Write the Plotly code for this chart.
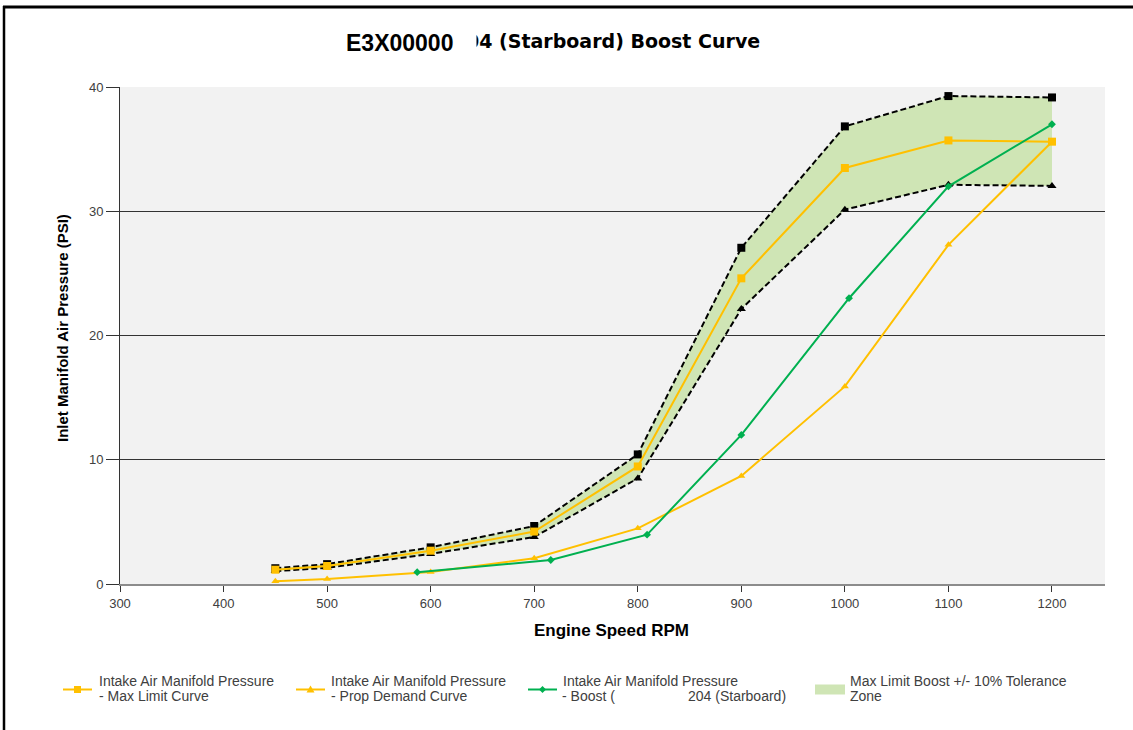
import plotly.graph_objects as go

# Engine speed (RPM) for the limit / demand curves
rpm = [450, 500, 600, 700, 800, 900, 1000, 1100, 1200]
# Tolerance band edges (+10% / -10%) around the max limit curve
tol_upper = [1.27, 1.6, 2.95, 4.67, 10.43, 27.06, 36.83, 39.27, 39.16]
tol_lower = [1.04, 1.3, 2.42, 3.78, 8.5, 22.14, 30.13, 32.13, 32.04]
# Intake air manifold pressure curves (PSI)
max_limit = [1.15, 1.45, 2.68, 4.22, 9.46, 24.6, 33.48, 35.7, 35.6]
prop_demand = [0.22, 0.4, 0.97, 2.07, 4.48, 8.7, 15.9, 27.3, 35.6]
# Measured boost
boost_rpm = [587, 716, 809, 900, 1004, 1100, 1200]
boost_psi = [0.95, 1.93, 3.97, 12.0, 23.0, 32.0, 37.0]

x_ticks = [300, 400, 500, 600, 700, 800, 900, 1000, 1100, 1200]
y_ticks = [0, 10, 20, 30, 40]

ORANGE = "#ffc000"
GREEN = "#00b050"
ZONE = "#cfe5b5"
TEXT = "#404040"
SANS = "Liberation Sans, Arial, sans-serif"

W, H = 1133, 730
L, R, T, B = 120, 28, 87, 146
PW, PH = W - L - R, H - T - B


def px(x):
    return (x - L) / PW


def py(y):
    return (H - B - y) / PH


fig = go.Figure()

# Tolerance zone polygon
fig.add_trace(go.Scatter(
    x=rpm + rpm[::-1], y=tol_upper + tol_lower[::-1],
    fill="toself", fillcolor=ZONE, line=dict(width=0),
    mode="lines", hoverinfo="skip", showlegend=False))

# Dashed tolerance band edges
fig.add_trace(go.Scatter(
    x=rpm, y=tol_upper, mode="lines+markers",
    line=dict(color="black", width=2, dash="6px,3px"),
    marker=dict(symbol="square", size=8, color="black"), showlegend=False))
fig.add_trace(go.Scatter(
    x=rpm, y=tol_lower, mode="lines+markers",
    line=dict(color="black", width=2, dash="6px,3px"),
    marker=dict(symbol="triangle-up", size=8, color="black"), showlegend=False))

fig.add_trace(go.Scatter(
    x=rpm, y=max_limit, mode="lines+markers",
    name="Intake Air Manifold Pressure - Max Limit Curve",
    line=dict(color=ORANGE, width=2),
    marker=dict(symbol="square", size=8, color=ORANGE), showlegend=False))
fig.add_trace(go.Scatter(
    x=rpm, y=prop_demand, mode="lines+markers",
    name="Intake Air Manifold Pressure - Prop Demand Curve",
    line=dict(color=ORANGE, width=2),
    marker=dict(symbol="triangle-up", size=7, color=ORANGE), showlegend=False))
fig.add_trace(go.Scatter(
    x=boost_rpm, y=boost_psi, mode="lines+markers",
    name="Intake Air Manifold Pressure - Boost",
    line=dict(color=GREEN, width=2),
    marker=dict(symbol="diamond", size=6, color=GREEN), showlegend=False))


def label(text, x, y, size=14, color=TEXT, family=SANS, xanchor="left", **kw):
    return dict(text=text, x=px(x), y=py(y), xref="paper", yref="paper",
                showarrow=False, xanchor=xanchor, yanchor="middle",
                font=dict(size=size, color=color, family=family), **kw)


annotations = [
    # Title (right part first so the left part's white box sits over it)
    label("<b>04 (Starboard) Boost Curve</b>", 762, 41, size=19, color="black",
          family="DejaVu Sans, sans-serif", xanchor="right"),
    label("<b>E3X00000</b>", 344, 43, size=23, color="black",
          bgcolor="white", width=129, align="left", borderpad=1),
    # Axis titles
    label("<b>Engine Speed RPM</b>", 611, 630, size=17, color="black", xanchor="center"),
    dict(text="<b>Inlet Manifold Air Pressure (PSI)</b>", x=px(62), y=py(328),
         xref="paper", yref="paper", showarrow=False, textangle=-90,
         xanchor="center", yanchor="middle",
         font=dict(size=15, color="black", family=SANS)),
    # Legend texts
    label("Intake Air Manifold Pressure", 97, 681),
    label("- Max Limit Curve", 97, 696),
    label("Intake Air Manifold Pressure", 329, 681),
    label("- Prop Demand Curve", 329, 696),
    label("Intake Air Manifold Pressure", 561, 681),
    label("204 (Starboard)", 788, 696, xanchor="right"),
    label("- Boost (", 560, 696, bgcolor="white", width=122, align="left", borderpad=1),
    label("Max Limit Boost +/- 10% Tolerance", 848, 681),
    label("Zone", 848, 696),
]

shapes = []
LY = 689.5
# Legend line swatches with their markers
for x0, col in [(63, ORANGE), (296, ORANGE), (528, GREEN)]:
    shapes.append(dict(type="line", xref="paper", yref="paper",
                       x0=px(x0), x1=px(x0 + 29), y0=py(LY), y1=py(LY),
                       line=dict(color=col, width=2)))
cx = 77.5
shapes.append(dict(type="rect", xref="paper", yref="paper",
                   x0=px(cx - 3.5), x1=px(cx + 3.5), y0=py(LY - 3.5), y1=py(LY + 3.5),
                   fillcolor=ORANGE, line=dict(width=0)))
cx = 310.5
shapes.append(dict(type="path", xref="paper", yref="paper",
                   path=f"M {px(cx - 4)},{py(LY + 3)} L {px(cx + 4)},{py(LY + 3)} "
                        f"L {px(cx)},{py(LY - 4)} Z",
                   fillcolor=ORANGE, line=dict(width=0)))
cx = 542.5
shapes.append(dict(type="path", xref="paper", yref="paper",
                   path=f"M {px(cx - 3.5)},{py(LY)} L {px(cx)},{py(LY - 3.5)} "
                        f"L {px(cx + 3.5)},{py(LY)} L {px(cx)},{py(LY + 3.5)} Z",
                   fillcolor=GREEN, line=dict(width=0)))
# Tolerance zone swatch
shapes.append(dict(type="rect", xref="paper", yref="paper",
                   x0=px(815), x1=px(845), y0=py(684.5), y1=py(694.5),
                   fillcolor=ZONE, line=dict(width=0)))
# Page frame
shapes.append(dict(type="line", xref="paper", yref="paper",
                   x0=px(3), x1=px(1133), y0=py(7), y1=py(7),
                   line=dict(color="black", width=3)))
shapes.append(dict(type="line", xref="paper", yref="paper",
                   x0=px(4), x1=px(4), y0=py(6), y1=py(731),
                   line=dict(color="black", width=2.5)))

fig.update_layout(
    width=W, height=H,
    margin=dict(l=L, r=R, t=T, b=B, pad=0),
    paper_bgcolor="white", plot_bgcolor="#f2f2f2",
    font=dict(family=SANS, size=13, color=TEXT),
    showlegend=False,
    annotations=annotations, shapes=shapes,
)
fig.update_xaxes(
    range=[300, 1251.2], tickvals=x_ticks, ticktext=[str(v) for v in x_ticks],
    showgrid=False, zeroline=False, showline=True, linecolor="#8c8c8c", linewidth=2,
    ticks="outside", ticklen=6, tickcolor="#333333", tickwidth=1,
    tickfont=dict(size=13, color=TEXT, family=SANS),
)
fig.update_yaxes(
    range=[0, 40], tickvals=y_ticks, ticktext=[str(v) for v in y_ticks],
    showgrid=True, gridcolor="#333333", gridwidth=1, zeroline=False,
    showline=True, linecolor="#333333", linewidth=1,
    ticks="outside", ticklen=13, tickcolor="#333333", tickwidth=1,
    tickfont=dict(size=13, color=TEXT, family=SANS),
)

fig.write_html("out.html")
